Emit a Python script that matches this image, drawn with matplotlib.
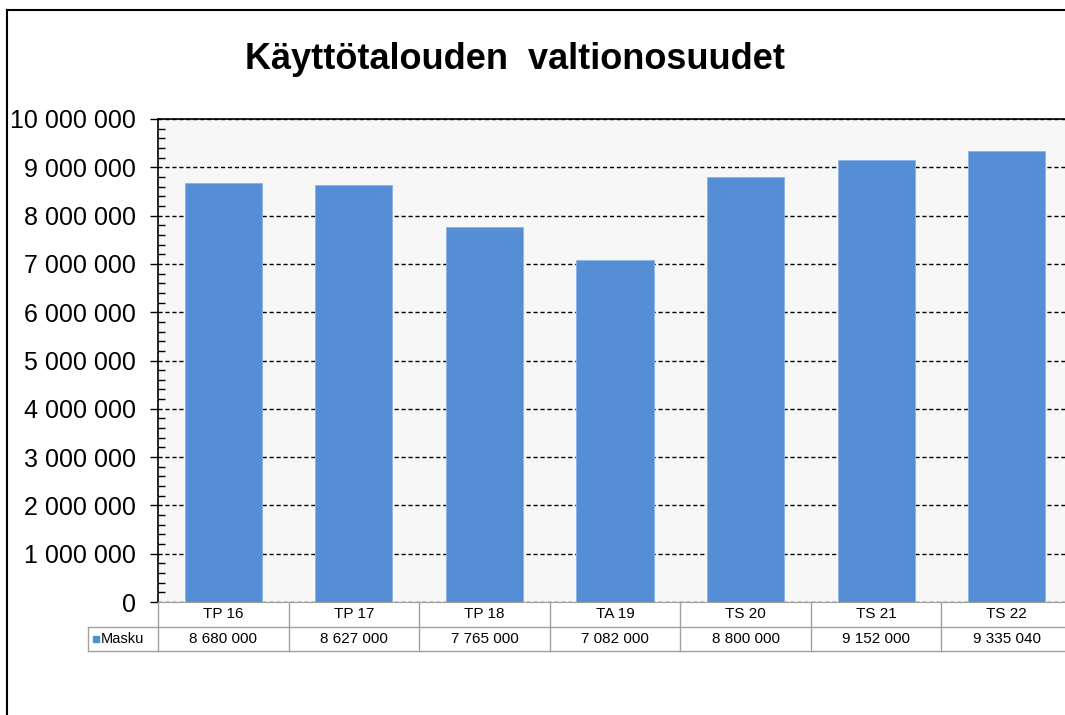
import matplotlib
matplotlib.use("Agg")
import matplotlib.pyplot as plt
from matplotlib.lines import Line2D
from matplotlib.patches import Rectangle
from matplotlib.ticker import MultipleLocator, FuncFormatter
from matplotlib.transforms import blended_transform_factory

plt.rcParams['font.family'] = ['Liberation Sans', 'DejaVu Sans']

# data
categories = ['TP 16', 'TP 17', 'TP 18', 'TA 19', 'TS 20', 'TS 21', 'TS 22']
masku = [8680000, 8627000, 7765000, 7082000, 8800000, 9152000, 9335040]
series_name = 'Masku'
title = 'Käyttötalouden  valtionosuudet'

W, H = 1065, 715
fig = plt.figure(figsize=(W / 100, H / 100), dpi=100)

def fx(x):
    return x / W

def fy(y):
    return 1 - y / H

# outer chart frame (right/bottom edges are cut off in the reference)
fig.add_artist(Line2D([fx(7), fx(7)], [fy(10), fy(720)], color='black', lw=1.5))
fig.add_artist(Line2D([fx(7), fx(1070)], [fy(10), fy(10)], color='black', lw=1.5))

left, right, top, bottom = 158, 1072, 119, 602
ax = fig.add_axes([fx(left), fy(bottom), fx(right - left), (bottom - top) / H])
ax.set_facecolor('#F7F7F7')

x = range(len(categories))
ax.bar(x, masku, width=0.59, color='#558ED5', edgecolor='#8DB3E2', lw=0.6, zorder=3)
ax.set_xlim(-0.5, len(categories) - 0.5)
ax.set_ylim(0, 10000000)

ax.yaxis.set_major_locator(MultipleLocator(1000000))
ax.yaxis.set_minor_locator(MultipleLocator(200000))
ax.yaxis.set_major_formatter(FuncFormatter(lambda v, p: f"{int(v):,}".replace(",", " ")))
ax.tick_params(axis='y', which='major', direction='out', length=6, width=1,
               labelsize=18, pad=10, colors='black')
ax.tick_params(axis='y', which='minor', direction='in', length=5, width=1)
ax.set_xticks([])
ax.grid(axis='y', which='major', color='black', linestyle=(0, (3, 2)), lw=1, zorder=1)

for s in ['left', 'top']:
    ax.spines[s].set_color('black')
    ax.spines[s].set_linewidth(1.2)
ax.spines['right'].set_visible(False)
ax.spines['bottom'].set_color('#A0A0A0')

# title
fig.text(fx(515), fy(69), title, ha='center', va='baseline', fontsize=26, fontweight='bold')

# data table under the chart
tr = blended_transform_factory(ax.transData, fig.transFigure)
grid_c = '#A0A0A0'
n = len(categories)
y0, y1, y2 = fy(602), fy(627), fy(651)
x_leg = -0.5 - (158 - 88) / ((right - left) / n)
fig.add_artist(Line2D([x_leg, n - 0.5], [y1, y1], color=grid_c, lw=1, transform=tr))
fig.add_artist(Line2D([x_leg, n - 0.5], [y2, y2], color=grid_c, lw=1, transform=tr))
fig.add_artist(Line2D([x_leg, x_leg], [y1, y2], color=grid_c, lw=1, transform=tr))
for i in range(n + 1):
    fig.add_artist(Line2D([i - 0.5, i - 0.5], [y0, y2], color=grid_c, lw=1, transform=tr))
for i, (c, v) in enumerate(zip(categories, masku)):
    fig.text(i, (y0 + y1) / 2, c, ha='center', va='center', fontsize=11, transform=tr)
    fig.text(i, (y1 + y2) / 2, f"{v:,}".replace(",", " "), ha='center', va='center',
             fontsize=11, transform=tr)

# legend key in the table
fig.add_artist(Rectangle((fx(93), fy(642)), fx(6), 6 / H, color='#558ED5'))
fig.text(fx(101), (y1 + y2) / 2, series_name, ha='left', va='center', fontsize=10.5)

fig.savefig('out.png', dpi=100)
